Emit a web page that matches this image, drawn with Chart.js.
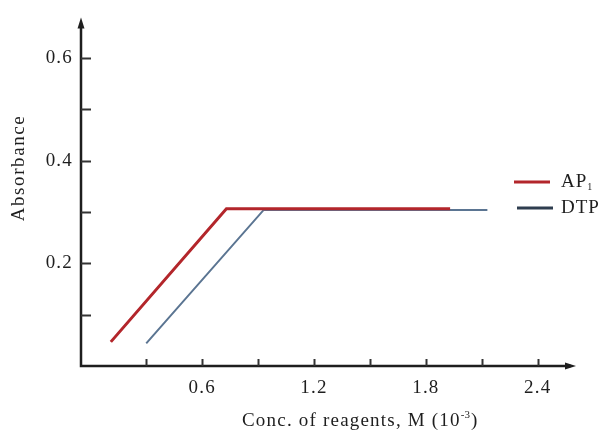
<!DOCTYPE html>
<html>
<head>
<meta charset="utf-8">
<script src="https://cdn.jsdelivr.net/npm/chart.js@4"></script>
<style>
  html, body { margin: 0; padding: 0; background: #fff; }
  #wrap { width: 604px; height: 433px; }
</style>
</head>
<body>
<div id="wrap"><canvas id="chart" width="604" height="433"></canvas></div>
<script>
// values
const apConc = [0.11, 0.73, 1.93];
const apAbs = [0.047, 0.306, 0.306];
const dtpConc = [0.30, 0.93, 2.13];
const dtpAbs = [0.044, 0.304, 0.304];

const xLabelTicks = [0.6, 1.2, 1.8, 2.4];
const yLabelTicks = [0.2, 0.4, 0.6];
const xTickMarks = [0.3, 0.6, 0.9, 1.2, 1.5, 1.8, 2.1, 2.4];
const yTickMarks = [0.1, 0.2, 0.3, 0.4, 0.5, 0.6];

const ink = '#1e1e1e';
const serif = '"Liberation Serif", "DejaVu Serif", serif';

const toPoints = (xs, ys) => xs.map((x, i) => ({ x: x, y: ys[i] }));

// axes with arrows, inward ticks, titles and legend
const decor = {
  id: 'decor',
  beforeDraw(chart) {
    chart.ctx.letterSpacing = '1.2px';
  },
  afterDatasetsDraw(chart) {
    const ctx = chart.ctx;
    const a = chart.chartArea;
    const xs = chart.scales.x, ys = chart.scales.y;
    ctx.save();
    ctx.strokeStyle = ink;
    ctx.fillStyle = ink;
    ctx.lineWidth = 2.5;
    ctx.beginPath();
    ctx.moveTo(a.left, a.top + 4);
    ctx.lineTo(a.left, a.bottom);
    ctx.lineTo(a.right - 4, a.bottom);
    ctx.stroke();
    // arrow heads
    ctx.beginPath();
    ctx.moveTo(a.left, a.top - 2);
    ctx.lineTo(a.left - 3.5, a.top + 9);
    ctx.lineTo(a.left + 3.5, a.top + 9);
    ctx.closePath();
    ctx.fill();
    ctx.beginPath();
    ctx.moveTo(a.right + 1, a.bottom);
    ctx.lineTo(a.right - 10, a.bottom - 3.5);
    ctx.lineTo(a.right - 10, a.bottom + 3.5);
    ctx.closePath();
    ctx.fill();
    // ticks
    ctx.lineWidth = 2;
    ctx.strokeStyle = '#333';
    yTickMarks.forEach(v => {
      const py = Math.round(ys.getPixelForValue(v)) + 0.5;
      ctx.beginPath();
      ctx.moveTo(a.left, py);
      ctx.lineTo(a.left + 10, py);
      ctx.stroke();
    });
    xTickMarks.forEach(v => {
      const px = Math.round(xs.getPixelForValue(v)) + 0.5;
      ctx.beginPath();
      ctx.moveTo(px, a.bottom);
      ctx.lineTo(px, a.bottom - 7);
      ctx.stroke();
    });

    // axis titles
    ctx.fillStyle = ink;
    ctx.textBaseline = 'alphabetic';
    ctx.font = '19px ' + serif;
    ctx.letterSpacing = '1.6px';
    ctx.save();
    ctx.translate(24, 168);
    ctx.rotate(-Math.PI / 2);
    ctx.textAlign = 'center';
    ctx.fillText('Absorbance', 0, 0);
    ctx.restore();

    ctx.letterSpacing = '1.2px';
    ctx.textAlign = 'left';
    let tx = 242;
    const base = 426;
    const part1 = 'Conc. of reagents, M (10';
    ctx.fillText(part1, tx, base);
    tx += ctx.measureText(part1).width;
    ctx.font = '11px ' + serif;
    ctx.letterSpacing = '0px';
    ctx.fillText('-3', tx, base - 8);
    tx += ctx.measureText('-3').width + 1;
    ctx.font = '19px ' + serif;
    ctx.fillText(')', tx, base);

    // legend
    const items = [
      { label: 'AP', sub: '1', color: '#b3262b', y: 182, x0: 514 },
      { label: 'DTP', sub: '', color: '#2e3d4f', y: 208, x0: 517 }
    ];
    items.forEach(it => {
      ctx.strokeStyle = it.color;
      ctx.lineWidth = 3;
      ctx.beginPath();
      ctx.moveTo(it.x0, it.y);
      ctx.lineTo(it.x0 + 36, it.y);
      ctx.stroke();
      ctx.fillStyle = ink;
      ctx.font = '19px ' + serif;
      ctx.letterSpacing = '1px';
      ctx.fillText(it.label, 561, it.y + 5);
      if (it.sub) {
        const w = ctx.measureText(it.label).width;
        ctx.font = '10px ' + serif;
        ctx.letterSpacing = '0px';
        ctx.fillText(it.sub, 561 + w, it.y + 8);
      }
    });
    ctx.restore();
  }
};

new Chart(document.getElementById('chart'), {
  type: 'scatter',
  data: {
    datasets: [
      {
        label: 'AP1',
        data: toPoints(apConc, apAbs),
        showLine: true,
        borderColor: '#b3262b',
        borderWidth: 3,
        pointRadius: 0,
        tension: 0
      },
      {
        label: 'DTP',
        data: toPoints(dtpConc, dtpAbs),
        showLine: true,
        borderColor: '#5b7592',
        borderWidth: 2,
        pointRadius: 0,
        tension: 0
      }
    ]
  },
  options: {
    responsive: false,
    animation: false,
    layout: { padding: { top: 15, right: 29, left: 0, bottom: 0 } },
    plugins: {
      legend: { display: false },
      tooltip: { enabled: false }
    },
    scales: {
      x: {
        type: 'linear',
        min: -0.05,
        max: 2.6,
        afterBuildTicks: s => { s.ticks = xLabelTicks.map(v => ({ value: v })); },
        afterFit: s => { s.height = 67; },
        grid: { display: false, drawTicks: false },
        border: { display: false },
        ticks: {
          color: ink,
          padding: 11,
          maxRotation: 0,
          font: { family: serif, size: 19 },
          callback: v => v.toFixed(1)
        }
      },
      y: {
        min: 0,
        max: 0.675,
        afterBuildTicks: s => { s.ticks = yLabelTicks.map(v => ({ value: v })); },
        afterFit: s => { s.width = 81; },
        grid: { display: false, drawTicks: false },
        border: { display: false },
        ticks: {
          color: ink,
          padding: 8,
          font: { family: serif, size: 19 },
          callback: v => v.toFixed(1)
        }
      }
    }
  },
  plugins: [decor]
});
</script>
</body>
</html>
